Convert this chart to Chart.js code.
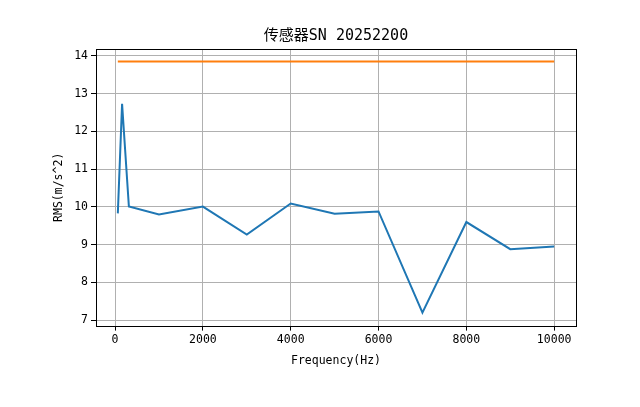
<!DOCTYPE html>
<html>
<head>
<meta charset="utf-8">
<script src="https://cdn.jsdelivr.net/npm/chart.js@4/dist/chart.umd.min.js"></script>
<style>
  html, body { margin: 0; padding: 0; background: #fff; }
  #c { display: block; }
</style>
</head>
<body>
<canvas id="c" width="640" height="407"></canvas>
<script>
const titleText = '传感器SN 20252200';
const xLabel = 'Frequency(Hz)';
const yLabel = 'RMS(m/s^2)';
const frequencies = [63, 160, 315, 1000, 2000, 3000, 4000, 5000, 6000, 7000, 8000, 9000, 10000];
const rmsValues = [9.83, 12.73, 10.01, 9.80, 10.01, 9.27, 10.09, 9.82, 9.88, 7.20, 9.60, 8.88, 8.95];
const limitValues = [13.85, 13.85, 13.85, 13.85, 13.85, 13.85, 13.85, 13.85, 13.85, 13.85, 13.85, 13.85, 13.85];
const xTicks = [0, 2000, 4000, 6000, 8000, 10000];
const yTicks = [7, 8, 9, 10, 11, 12, 13, 14];

const FONT = "'DejaVu Sans Mono', 'Noto Sans CJK SC', monospace";

const framePlugin = {
  id: 'frame',
  afterDraw(chart) {
    const a = chart.chartArea, ctx = chart.ctx;
    ctx.save();
    ctx.strokeStyle = '#000';
    ctx.lineWidth = 1;
    ctx.strokeRect(Math.round(a.left) + 0.5, Math.round(a.top) + 0.5,
                   Math.round(a.right - a.left), Math.round(a.bottom - a.top));
    ctx.restore();
  }
};

new Chart(document.getElementById('c'), {
  type: 'line',
  data: {
    datasets: [
      {
        data: frequencies.map((f, i) => ({x: f, y: rmsValues[i]})),
        borderColor: '#1f77b4', borderWidth: 2, pointRadius: 0, tension: 0, fill: false
      },
      {
        data: frequencies.map((f, i) => ({x: f, y: limitValues[i]})),
        borderColor: '#ff7f0e', borderWidth: 2, pointRadius: 0, tension: 0, fill: false
      }
    ]
  },
  options: {
    responsive: false,
    animation: false,
    events: [],
    layout: { padding: { left: 50, right: 64, top: 27, bottom: 39 } },
    plugins: {
      legend: { display: false },
      tooltip: { enabled: false },
      title: {
        display: true, text: titleText, fullSize: false,
        color: '#000', font: { family: FONT, size: 15, weight: 'normal' },
        padding: { top: 0, bottom: 4 }
      }
    },
    scales: {
      x: {
        type: 'linear',
        min: -434, max: 10497,
        afterBuildTicks: s => { s.ticks = xTicks.map(v => ({value: v})); },
        afterFit: s => { s.height = 42.4; },
        ticks: { color: '#000', font: { family: FONT, size: 11.5 }, padding: 3, maxRotation: 0,
                 callback: v => String(v) },
        grid: { color: '#b0b0b0', lineWidth: 1, drawTicks: true, tickLength: 5, tickColor: '#000', tickWidth: 1 },
        border: { display: false },
        title: { display: true, text: xLabel, color: '#000', font: { family: FONT, size: 11.5 }, padding: { top: 0, bottom: 0 } }
      },
      y: {
        type: 'linear',
        min: 6.857, max: 14.183,
        afterBuildTicks: s => { s.ticks = yTicks.map(v => ({value: v})); },
        afterFit: s => { s.width = 46; },
        ticks: { color: '#000', font: { family: FONT, size: 11.5 }, padding: 3,
                 callback: v => String(v) },
        grid: { color: '#b0b0b0', lineWidth: 1, drawTicks: true, tickLength: 5, tickColor: '#000', tickWidth: 1 },
        border: { display: false },
        title: { display: true, text: yLabel, color: '#000', font: { family: FONT, size: 11.5 }, padding: { top: 2, bottom: 0 } }
      }
    }
  },
  plugins: [framePlugin]
});
</script>
</body>
</html>
